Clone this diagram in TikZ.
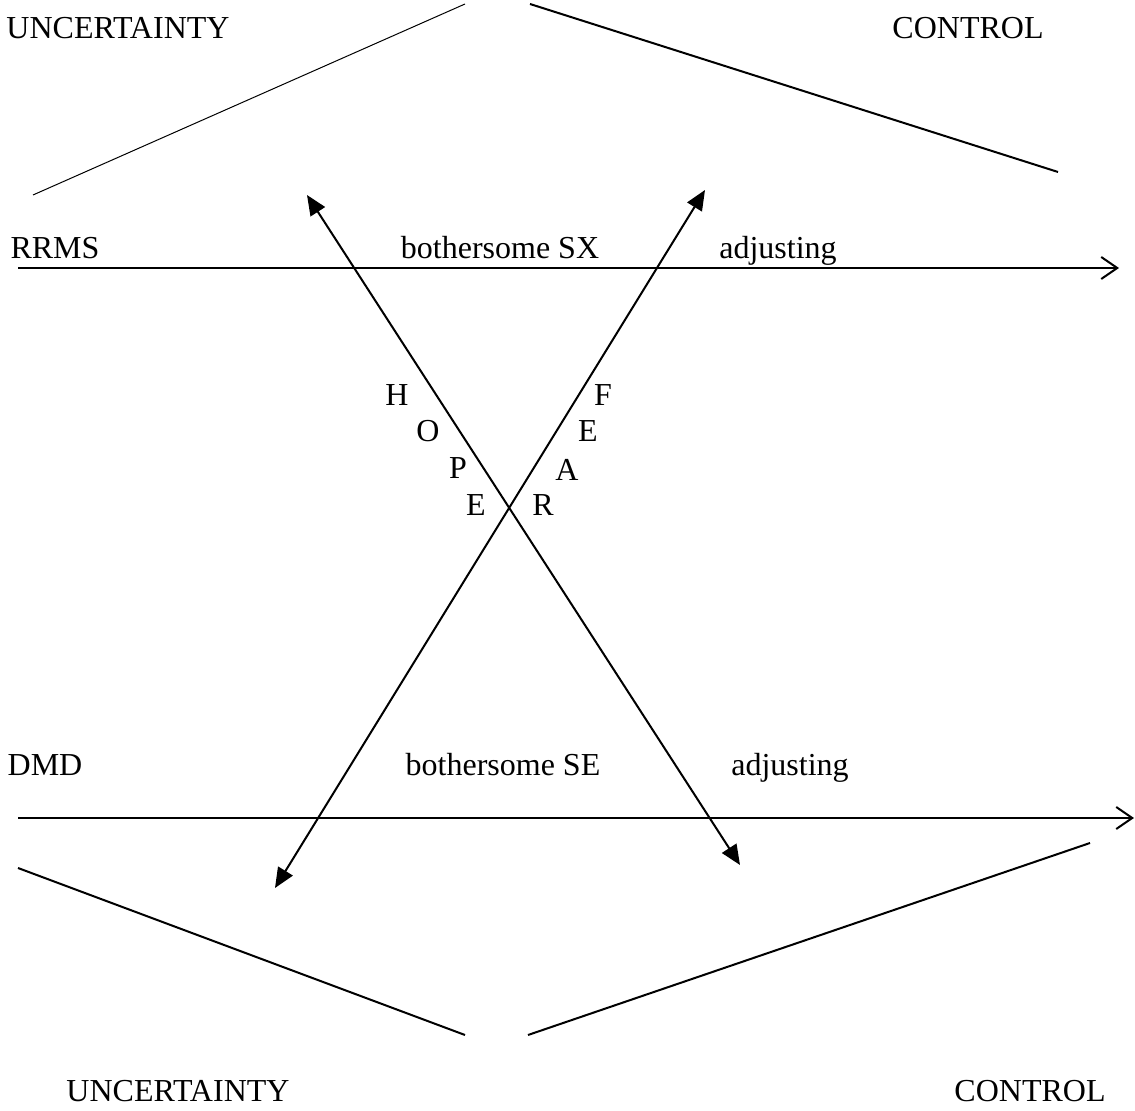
\documentclass[tikz,border=0pt]{standalone}
\usepackage{fontspec}
\setmainfont{Liberation Serif}
\usetikzlibrary{arrows.meta}

\begin{document}
\begin{tikzpicture}[
      x=0.5pt, y=-0.5pt,
      word/.style={inner sep=0pt, anchor=base, font=\fontsize{16}{19}\selectfont},
      letter/.style={word},
      boundary/.style={line width=1pt},
      thin boundary/.style={line width=0.5pt},
      axis/.style={line width=1pt, -{Straight Barb[length=8pt,width=11pt,line width=1pt]}},
      pull line/.style={line width=1pt,
         {Triangle[length=10pt,width=8.5pt]}-{Triangle[length=10pt,width=8.5pt]}}
    ]
    \useasboundingbox (0,0) rectangle (1135,1111);
    % words round the edges
    \node (unc1) [word] at (118,39) {UNCERTAINTY};
    \node (con1) [word] at (968,39) {CONTROL};
    \node (rrms) [word] at (55,259) {RRMS};
    \node (sx)   [word] at (500,259) {bothersome SX};
    \node (adj1) [word] at (778,259) {adjusting};
    \node (dmd)  [word] at (45,776) {DMD};
    \node (se)   [word] at (503,776) {bothersome SE};
    \node (adj2) [word] at (790,776) {adjusting};
    \node (unc2) [word] at (178,1101) {UNCERTAINTY};
    \node (con2) [word] at (1030,1101) {CONTROL};
    % letters along the diagonals
    \node (h) [letter] at (397,406) {H};
    \node (o) [letter] at (428,442) {O};
    \node (p) [letter] at (458,479) {P};
    \node (e1) [letter] at (476,516) {E};
    \node (f) [letter] at (603,406) {F};
    \node (e2) [letter] at (588,442) {E};
    \node (a) [letter] at (567,481) {A};
    \node (r) [letter] at (543,516) {R};
    % end points
    \coordinate (tl1) at (33,195);   \coordinate (tl2) at (465,4);
    \coordinate (tr1) at (530,4);    \coordinate (tr2) at (1058,172);
    \coordinate (bl1) at (18,868);   \coordinate (bl2) at (465,1035);
    \coordinate (br1) at (528,1035); \coordinate (br2) at (1090,843);
    \coordinate (ax1s) at (18,268);  \coordinate (ax1e) at (1119,268);
    \coordinate (ax2s) at (18,818);  \coordinate (ax2e) at (1134,818);
    \coordinate (hope1) at (307,195); \coordinate (hope2) at (740,865);
    \coordinate (fear1) at (705,190); \coordinate (fear2) at (275,888);

    \draw [thin boundary] (tl1) -- (tl2);
    \draw [boundary] (tr1) -- (tr2);
    \draw [boundary] (bl1) -- (bl2);
    \draw [boundary] (br1) -- (br2);
    \draw [axis] (ax1s) -- (ax1e);
    \draw [axis] (ax2s) -- (ax2e);
    \draw [pull line] (hope1) -- (hope2);
    \draw [pull line] (fear1) -- (fear2);
\end{tikzpicture}
\end{document}
